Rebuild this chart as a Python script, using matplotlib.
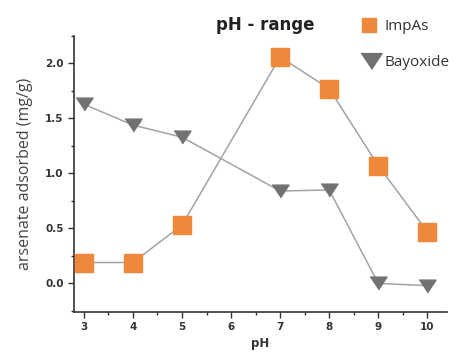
import numpy as np
import matplotlib
matplotlib.use("Agg")
import matplotlib.pyplot as plt
from matplotlib.ticker import MultipleLocator

# data
ph = [3, 4, 5, 7, 8, 9, 10]
impas = [0.19, 0.19, 0.53, 2.06, 1.77, 1.07, 0.47]
bayoxide = [1.63, 1.44, 1.33, 0.84, 0.85, 0.0, -0.02]

orange = '#f0883c'
grey = '#717171'
tri = [(-1, 0.75), (1, 0.75), (0, -0.75)]

fig = plt.figure(figsize=(4.7, 3.55), dpi=100)
ax = fig.add_axes([74 / 470, 1 - 312 / 355, 373 / 470, 276 / 355])

line_col = '#a3a3a3'
ax.plot(ph, impas, color=line_col, lw=1.1, zorder=1)
ax.plot(ph, bayoxide, color=line_col, lw=1.1, zorder=1)
ax.scatter(ph, impas, marker='s', s=150, color=orange, zorder=3)
ax.scatter(ph, bayoxide, marker=tri, s=150, color=grey, zorder=3)

ax.set_xlim(2.8, 10.4)
ax.set_ylim(-0.26, 2.25)
ax.xaxis.set_major_locator(MultipleLocator(1))
ax.xaxis.set_minor_locator(MultipleLocator(0.5))
ax.yaxis.set_major_locator(MultipleLocator(0.5))
ax.yaxis.set_minor_locator(MultipleLocator(0.25))
ax.yaxis.set_major_formatter(plt.FormatStrFormatter('%.1f'))

for s in ['top', 'right']:
    ax.spines[s].set_visible(False)
for s in ['left', 'bottom']:
    ax.spines[s].set_color('#333333')
    ax.spines[s].set_linewidth(1.2)

ax.tick_params(which='major', length=4, width=1, color='#333333',
               labelsize=7.5, labelcolor='#333333')
ax.tick_params(which='minor', length=2.5, width=1, color='#333333')
for lab in ax.get_xticklabels() + ax.get_yticklabels():
    lab.set_fontweight('bold')

ax.set_xlabel('pH', fontsize=8.5, fontweight='bold', color='#333333', labelpad=3)
ax.set_ylabel('arsenate adsorbed (mg/g)', fontsize=11.5, family='Open Sans',
              color='#444444', labelpad=9)

fig.text(265 / 470, 1 - 25 / 355, 'pH - range', fontsize=12, fontweight='bold',
         ha='center', va='center', color='#222222')

# legend drawn outside the axes, top right
lax = fig.add_axes([0, 0, 1, 1], facecolor='none')
lax.set_xlim(0, 470)
lax.set_ylim(355, 0)
lax.axis('off')
lax.scatter([369], [25], marker='s', s=95, color=orange)
lax.scatter([371], [61], marker=tri, s=230, color=grey)
lax.text(385, 26, 'ImpAs', fontsize=11, family='Open Sans', color='#333333',
         ha='left', va='center')
lax.text(385, 62, 'Bayoxide', fontsize=11, family='Open Sans', color='#333333',
         ha='left', va='center')

fig.savefig('out.png', dpi=100)
